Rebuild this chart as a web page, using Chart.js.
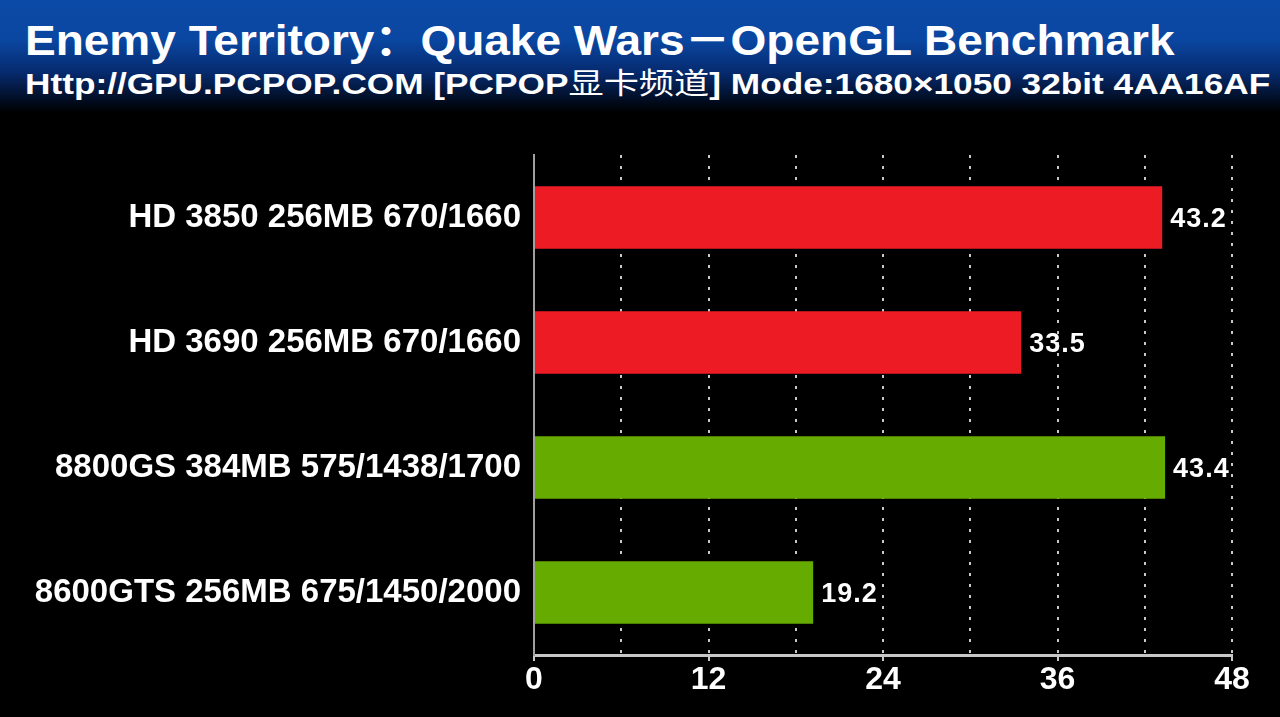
<!DOCTYPE html>
<html lang="zh">
<head>
    <meta charset="UTF-8">
    <title>Enemy Territory: Quake Wars - OpenGL Benchmark</title>
    <style>
        html, body { margin: 0; padding: 0; background: #000; }
        body { width: 1280px; height: 717px; position: relative; overflow: hidden; }
        .header {
            position: absolute; left: 0; top: 0; width: 1280px; height: 112px;
            background: linear-gradient(to bottom, #0b4aa6 0%, #0a47a2 35%, #062a6e 65%, #000 100%);
        }
        .title, .subtitle {
            position: absolute; left: 25px; color: #fff; font-weight: bold; white-space: nowrap;
            font-family: "Liberation Sans", Arial, "Noto Sans CJK SC", sans-serif;
            transform-origin: 0 0; line-height: 1;
        }
        .title { top: 20px; font-size: 42px; }
        .subtitle { top: 67px; font-size: 29px; }
        .cn { font-weight: normal; font-family: "Noto Sans CJK SC", sans-serif; }
        #chart { position: absolute; left: 0; top: 0; }
    </style>
</head>
<body>
    <div class="header">
        <div class="title" id="title">Enemy Territory：Quake Wars－OpenGL Benchmark</div>
        <div class="subtitle" id="subtitle">Http://GPU.PCPOP.COM [PCPOP<span class="cn">显卡频道</span>] Mode:1680×1050 32bit 4AA16AF</div>
    </div>
    <canvas id="chart" width="1280" height="717"></canvas>

    <script src="https://cdn.jsdelivr.net/npm/chart.js@4.4.0/dist/chart.umd.min.js"></script>
    <script>
        var cards = [
            'HD 3850 256MB 670/1660',
            'HD 3690 256MB 670/1660',
            '8800GS 384MB 575/1438/1700',
            '8600GTS 256MB 675/1450/2000'
        ];
        var fps = [43.2, 33.5, 43.4, 19.2];
        var barColors = ['#ed1c24', '#ed1c24', '#66ab00', '#66ab00'];
        var xTicks = [0, 12, 24, 36, 48];

        var font = '"Liberation Sans", Arial, sans-serif';

        // stretch header lines to the width they have in the original
        function fitWidth(id, w) {
            var el = document.getElementById(id);
            el.style.transform = 'scaleX(' + (w / el.offsetWidth) + ')';
        }
        fitWidth('title', 1150);
        fitWidth('subtitle', 1245);

        // value text right after each bar
        var valueLabels = {
            id: 'valueLabels',
            afterDatasetsDraw: function (chart) {
                var ctx = chart.ctx;
                var meta = chart.getDatasetMeta(0);
                ctx.save();
                ctx.fillStyle = '#fff';
                ctx.font = 'bold 27px ' + font;
                ctx.letterSpacing = '1px';
                ctx.textBaseline = 'middle';
                meta.data.forEach(function (bar, i) {
                    ctx.fillText(fps[i].toFixed(1), bar.x + 8, bar.y + 2);
                });
                ctx.restore();
            }
        };

        new Chart(document.getElementById('chart'), {
            type: 'bar',
            data: {
                labels: cards,
                datasets: [{
                    data: fps,
                    backgroundColor: barColors,
                    borderWidth: 0,
                    categoryPercentage: 1,
                    barPercentage: 0.5
                }]
            },
            options: {
                indexAxis: 'y',
                responsive: false,
                animation: false,
                layout: { padding: { top: 155, right: 48, left: 0, bottom: 0 } },
                plugins: { legend: { display: false }, tooltip: { enabled: false } },
                scales: {
                    x: {
                        min: 0,
                        max: 48,
                        afterFit: function (scale) { scale.height = 62; },
                        afterBuildTicks: function (scale) {
                            var t = [];
                            for (var v = 0; v <= 48; v += 6) t.push({ value: v });
                            scale.ticks = t;
                        },
                        ticks: {
                            color: '#fff',
                            font: { family: font, size: 32, weight: 'bold' },
                            padding: 0,
                            autoSkip: false,
                            maxRotation: 0,
                            callback: function (v) { return xTicks.indexOf(v) >= 0 ? String(v) : ''; }
                        },
                        grid: {
                            color: function (c) { return c.tick && c.tick.value === 0 ? 'rgba(0,0,0,0)' : '#c8c8c8'; },
                            lineWidth: 2,
                            tickLength: 6,
                            tickColor: function (c) { return c.tick && xTicks.indexOf(c.tick.value) >= 0 ? '#c8c8c8' : 'rgba(0,0,0,0)'; }
                        },
                        border: { display: true, color: '#c8c8c8', width: 3, dash: [3, 8] }
                    },
                    y: {
                        afterFit: function (scale) { scale.width = 534; },
                        ticks: {
                            color: '#fff',
                            font: { family: font, size: 33, weight: 'bold' },
                            padding: 13
                        },
                        grid: { display: false, drawTicks: false },
                        border: { display: true, color: '#a0a0a0', width: 2 }
                    }
                }
            },
            plugins: [valueLabels]
        });
    </script>
</body>
</html>
